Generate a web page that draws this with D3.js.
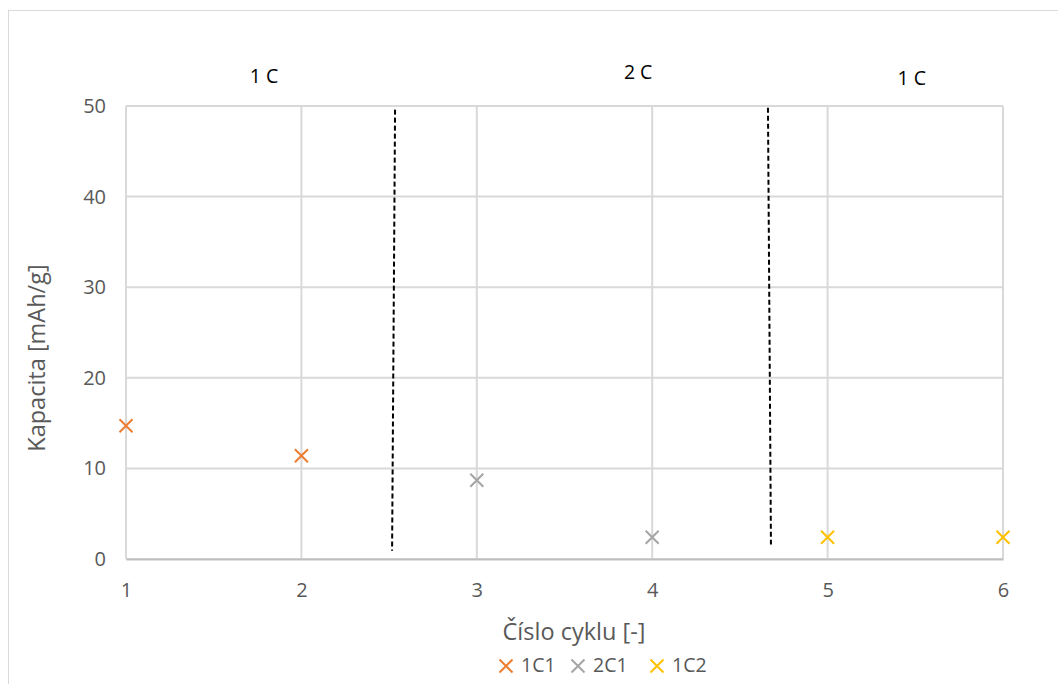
<!DOCTYPE html>
<html><head><meta charset="utf-8">
<script src="https://cdn.jsdelivr.net/npm/d3@7"></script>
<style>body{margin:0;background:#fff}svg{display:block}text{font-family:"Open Sans",sans-serif}</style>
</head><body><svg id="c" width="1058" height="684"></svg>
<script>
const xTicks = [1,2,3,4,5,6];
const yTicks = [0,10,20,30,40,50];
const seriesNames = ["1C1","2C1","1C2"];
const seriesColors = ["#ED7D31","#A5A5A5","#FFC000"];
const s1C1 = [[1,14.7],[2,11.4]];
const s2C1 = [[3,8.7],[4,2.4]];
const s1C2 = [[5,2.4],[6,2.4]];
const divider1 = [[2.534,49.6],[2.517,0.9]];
const divider2 = [[4.66,49.8],[4.677,1.6]];
const rateLabels = ["1 C","2 C","1 C"];
const rateLabelPos = [[1.787,53.1],[3.92,53.6],[5.48,52.9]];

const svg = d3.select("#c");
const x = d3.scaleLinear().domain([1,6]).range([126,1003]);
const y = d3.scaleLinear().domain([0,50]).range([559,106]);

svg.append("rect").attr("x",8.5).attr("y",10.5).attr("width",1060).attr("height",690)
  .attr("fill","none").attr("stroke","#D9D9D9").attr("stroke-width",1);

svg.append("g").selectAll("line").data(yTicks).join("line")
  .attr("x1",x(1)).attr("x2",x(6)).attr("y1",d=>y(d)).attr("y2",d=>y(d))
  .attr("stroke","#D9D9D9").attr("stroke-width",2);
svg.append("g").selectAll("line").data(xTicks).join("line")
  .attr("x1",d=>x(d)).attr("x2",d=>x(d)).attr("y1",y(0)).attr("y2",y(50))
  .attr("stroke","#D9D9D9").attr("stroke-width",2);

const xa = svg.append("g").attr("transform",`translate(0,${y(0)})`)
  .call(d3.axisBottom(x).tickValues(xTicks).tickFormat(d3.format("d")).tickSize(0).tickPadding(24));
xa.select(".domain").attr("stroke","#BFBFBF").attr("stroke-width",2);
xa.selectAll("text").attr("font-size",20).attr("font-family","'Open Sans',sans-serif").attr("fill","#595959");
const ya = svg.append("g").attr("transform",`translate(${x(1)},0)`)
  .call(d3.axisLeft(y).tickValues(yTicks).tickFormat(d3.format("d")).tickSize(0).tickPadding(20));
ya.select(".domain").remove();
ya.selectAll("text").attr("font-size",20).attr("font-family","'Open Sans',sans-serif").attr("fill","#595959");

svg.append("text").attr("x",574).attr("y",640).attr("text-anchor","middle")
  .attr("font-size",23.5).attr("fill","#595959").text("Číslo cyklu [-]");
svg.append("text").attr("transform","translate(45,358) rotate(-90)").attr("text-anchor","middle")
  .attr("font-size",23.5).attr("fill","#595959").text("Kapacita [mAh/g]");

const line = d3.line().x(d=>x(d[0])).y(d=>y(d[1]));
[divider1,divider2].forEach(dv=>{
  svg.append("path").attr("d",line(dv)).attr("fill","none").attr("stroke","#000")
    .attr("stroke-width",2).attr("stroke-dasharray","5,3");
});

svg.selectAll(".rl").data(rateLabels).join("text").attr("class","rl")
  .attr("x",(d,i)=>x(rateLabelPos[i][0])).attr("y",(d,i)=>y(rateLabelPos[i][1]))
  .attr("text-anchor","middle").attr("dominant-baseline","middle")
  .attr("font-size",19.5).attr("fill","#000").text(d=>d);

function cross(g,cx,cy,r,color){
  g.append("path").attr("d",`M${cx-r},${cy-r}L${cx+r},${cy+r}M${cx-r},${cy+r}L${cx+r},${cy-r}`)
    .attr("stroke",color).attr("stroke-width",2).attr("fill","none");
}
const allSeries = [s1C1,s2C1,s1C2];
allSeries.forEach((s,i)=>{
  const g = svg.append("g");
  s.forEach(p=>cross(g,x(p[0]),y(p[1]),6.5,seriesColors[i]));
});

const legX = [506,578,657];
seriesNames.forEach((n,i)=>{
  const g = svg.append("g");
  cross(g,legX[i],666,6.5,seriesColors[i]);
  g.append("text").attr("x",legX[i]+15).attr("y",667).attr("dominant-baseline","middle")
    .attr("font-size",19.5).attr("fill","#595959").text(n);
});
</script></body></html>
